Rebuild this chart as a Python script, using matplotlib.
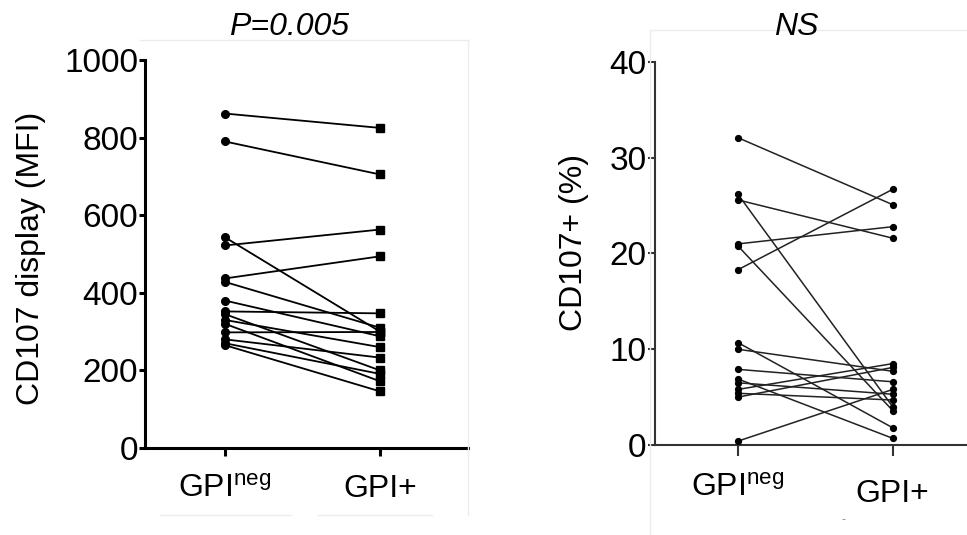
import matplotlib
matplotlib.use('Agg')
import matplotlib.pyplot as plt
from matplotlib.lines import Line2D

plt.rcParams['font.family'] = ['Liberation Sans', 'DejaVu Sans']
plt.rcParams['mathtext.fontset'] = 'custom'
plt.rcParams['mathtext.rm'] = 'Liberation Sans'
plt.rcParams['mathtext.it'] = 'Liberation Sans:italic'

# categories
groups = ['GPI$^{\\mathrm{neg}}$', 'GPI+']

# CD107 display (MFI), paired per donor
mfi_neg = [862, 790, 543, 522, 437, 428, 380, 352, 345, 330, 320, 298, 280, 270, 265]
mfi_pos = [825, 705, 300, 563, 494, 310, 288, 347, 200, 260, 172, 299, 233, 191, 146]

# CD107+ (%), paired per donor
pct_neg = [32.1, 26.2, 25.6, 21.0, 20.8, 18.3, 10.7, 10.0, 7.9, 6.9, 6.5, 5.8, 5.4, 5.0, 0.4]
pct_pos = [25.1, 4.0, 21.6, 22.8, 3.6, 26.7, 1.8, 7.7, 6.6, 0.7, 5.3, 8.5, 4.7, 8.1, 5.8]

W, H = 967, 535
fig = plt.figure(figsize=(W / 100, H / 100), dpi=100)


def px_axes(x0, x1, y_top, y_bot):
    return fig.add_axes([x0 / W, 1 - y_bot / H, (x1 - x0) / W, (y_bot - y_top) / H])


# ---- left panel
ax1 = px_axes(145, 468, 60, 448)
for a, b in zip(mfi_neg, mfi_pos):
    ax1.plot([0, 1], [a, b], color='black', lw=1.3, zorder=2)
ax1.plot([0] * len(mfi_neg), mfi_neg, 'o', color='black', ms=5.5, zorder=3)
ax1.plot([1] * len(mfi_pos), mfi_pos, 's', color='black', ms=5.5, zorder=3)
ax1.set_xlim(-0.516, 1.568)
ax1.set_ylim(0, 1000)
ax1.set_yticks([0, 200, 400, 600, 800, 1000])
ax1.set_xticks([0, 1])
ax1.set_xticklabels(groups)
ax1.set_ylabel('CD107 display (MFI)', fontsize=23)
ax1.yaxis.set_label_coords(-0.305, 0.49)
for s in ['top', 'right']:
    ax1.spines[s].set_visible(False)
for s in ['left', 'bottom']:
    ax1.spines[s].set_linewidth(2.2)
ax1.tick_params(axis='y', labelsize=24, width=2.2, length=4, pad=1)
ax1.tick_params(axis='x', labelsize=23, width=2.2, length=6, pad=13)

# ---- right panel
ax2 = px_axes(655, 967, 62, 445)
for a, b in zip(pct_neg, pct_pos):
    ax2.plot([0, 1], [a, b], color='#222222', lw=1.1, zorder=2)
ax2.plot([0] * len(pct_neg), pct_neg, 'o', color='black', ms=4.2, zorder=3)
ax2.plot([1] * len(pct_pos), pct_pos, 'o', color='black', ms=4.2, zorder=3)
ax2.set_xlim(-0.535, 1.48)
ax2.set_ylim(0, 40)
ax2.set_yticks([0, 10, 20, 30, 40])
ax2.set_xticks([0, 1])
ax2.set_xticklabels(groups)
ax2.set_ylabel('CD107+ (%)', fontsize=23)
ax2.yaxis.set_label_coords(-0.21, 0.53)
for s in ['top', 'right']:
    ax2.spines[s].set_visible(False)
for s in ['left', 'bottom']:
    ax2.spines[s].set_linewidth(1.5)
    ax2.spines[s].set_color('#333333')
ax2.tick_params(axis='y', labelsize=24, width=1.5, length=5, pad=1, color='#333333')
ax2.tick_params(axis='x', labelsize=23, width=1.5, length=8, pad=12, color='#333333')
ax2.get_xticklabels()[1].set_y(-0.015)

# titles
fig.text(289 / W, 1 - 27 / H, 'P=0.005', style='italic', fontsize=23, ha='center', va='center')
fig.text(796 / W, 1 - 27 / H, 'NS', style='italic', fontsize=23, ha='center', va='center')

# faint frame remnants of the original figure
faint = '#ececec'
for xs, ys in [([140, 468], [40, 40]), ([468, 468], [40, 515]),
               ([650, 967], [30, 30]), ([650, 650], [30, 535]),
               ([160, 291], [515, 515]), ([318, 432], [515, 515])]:
    fig.add_artist(Line2D([x / W for x in xs], [1 - y / H for y in ys], color=faint, lw=1))
fig.text(843 / W, 1 - 520 / H, '-', fontsize=9, color='#888888', ha='center', va='center')

fig.savefig('out.png', dpi=100)
